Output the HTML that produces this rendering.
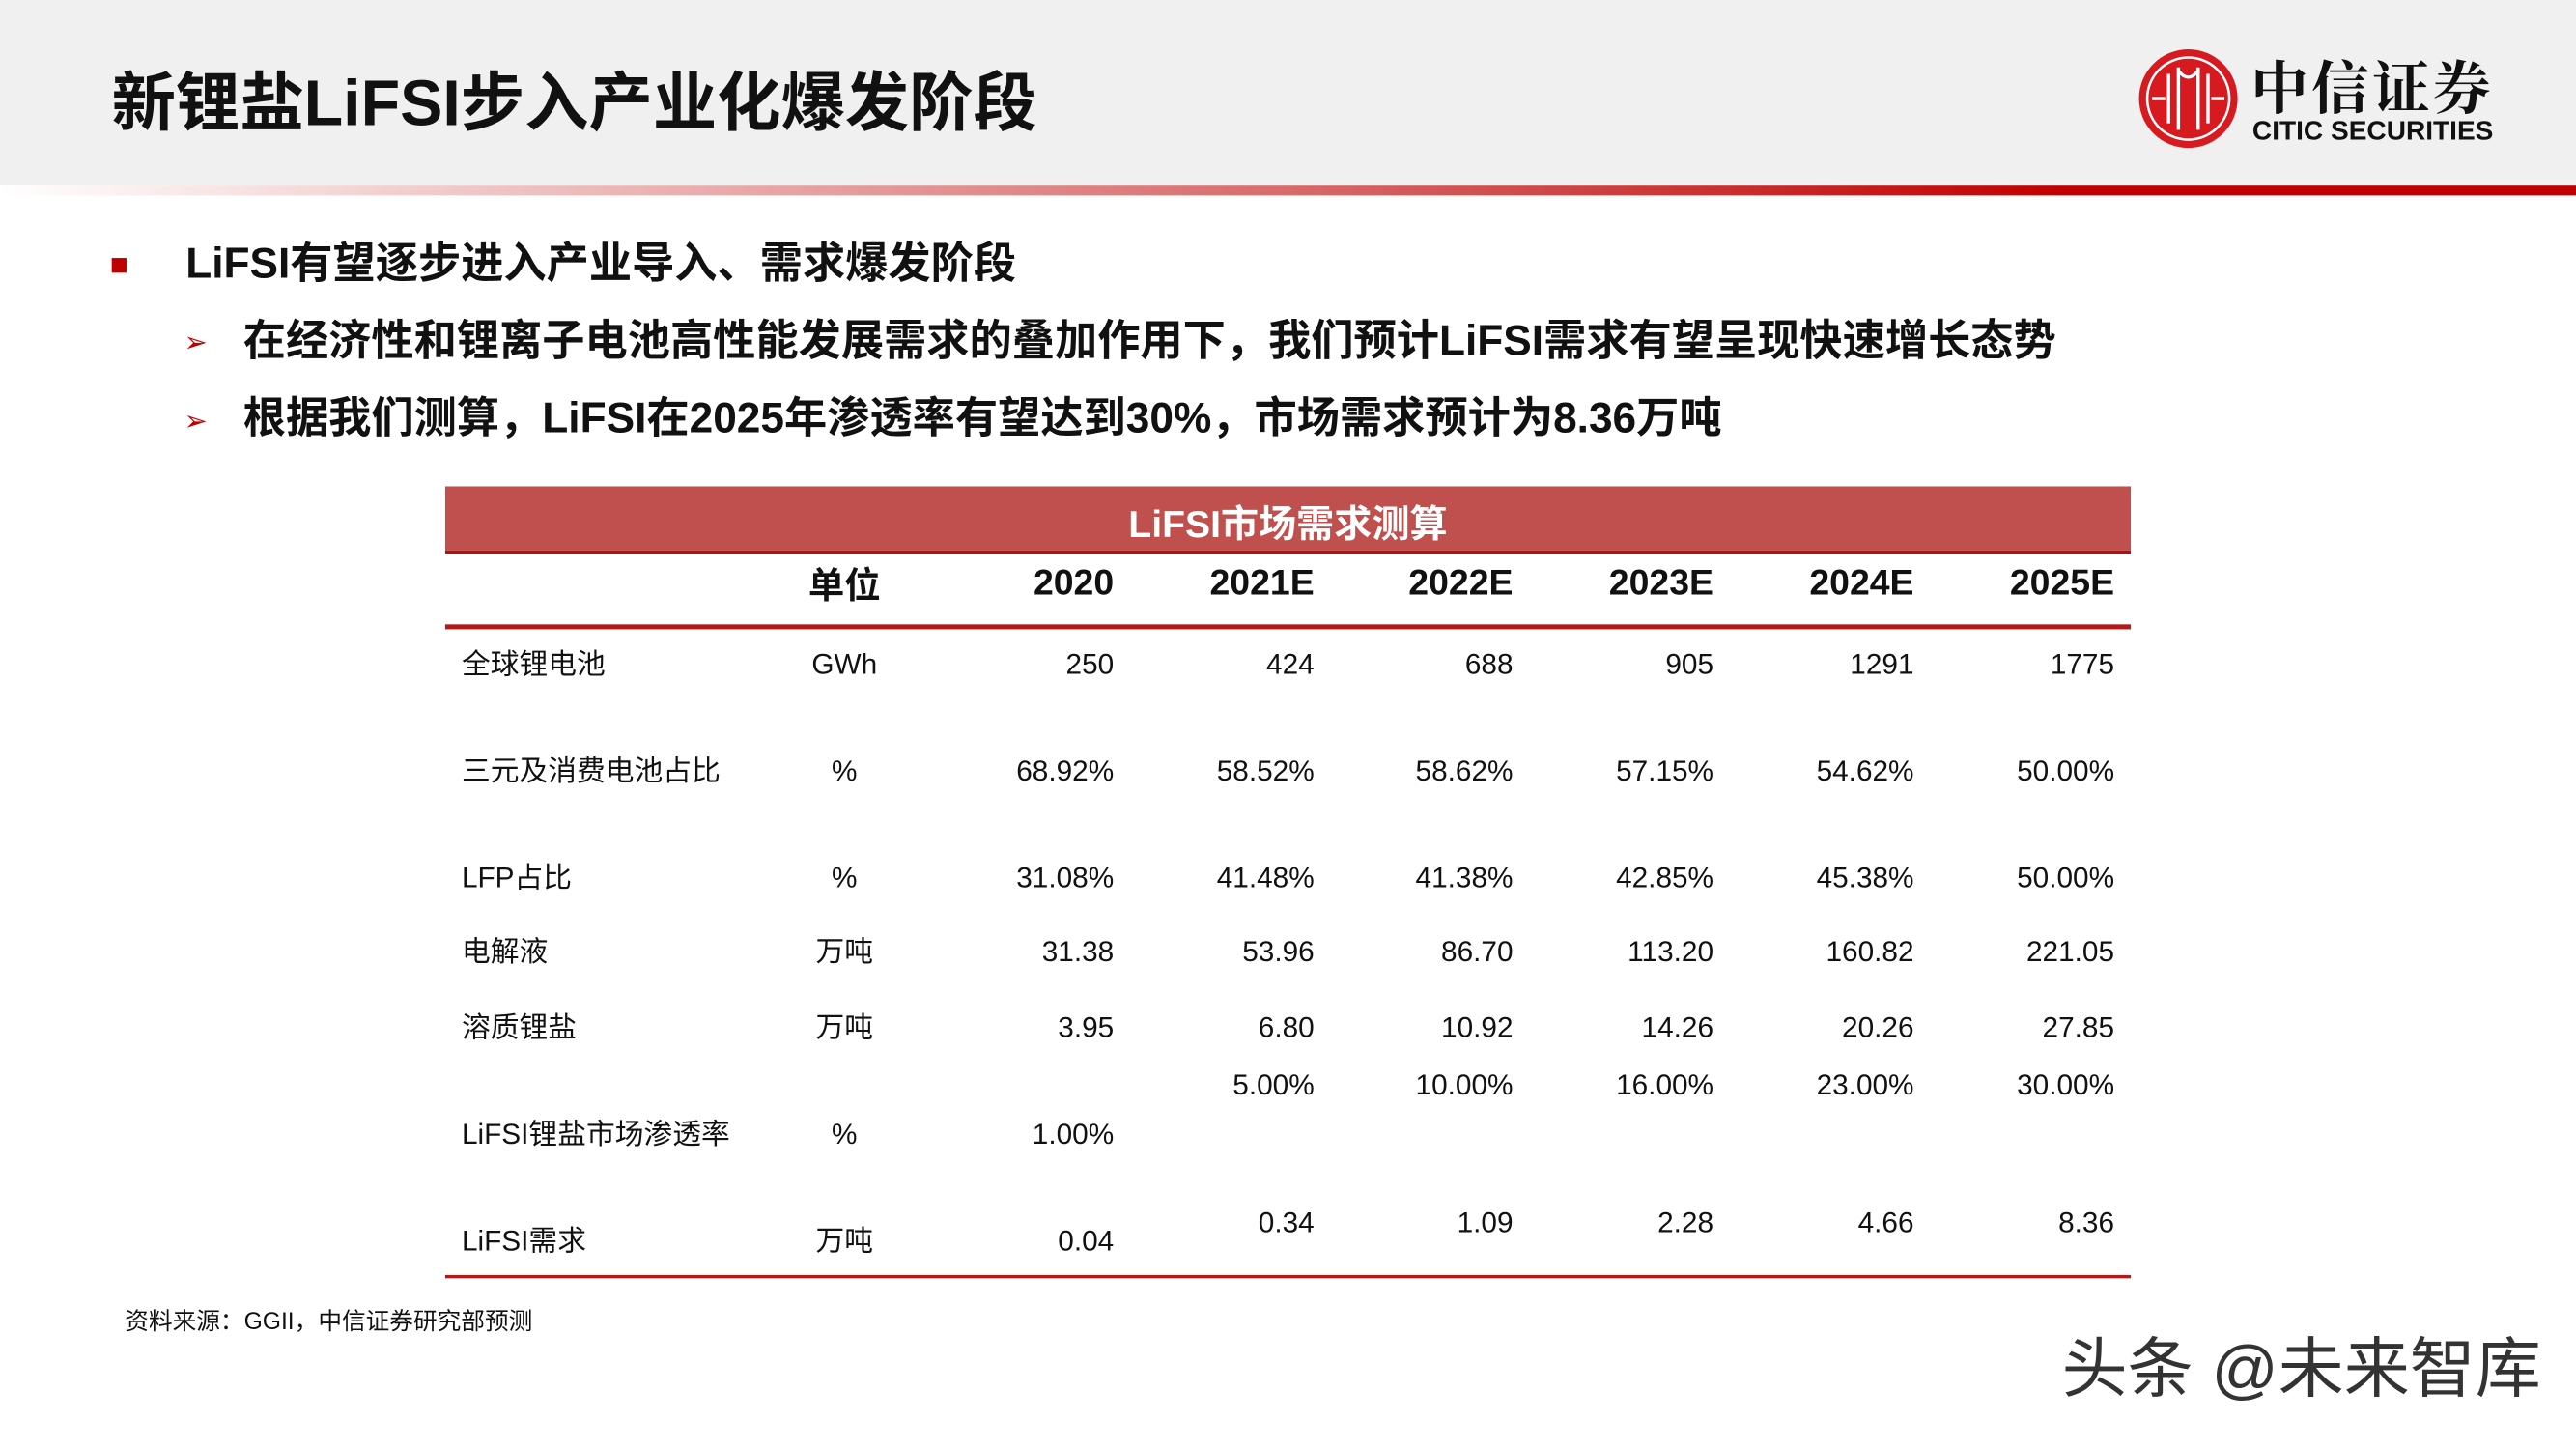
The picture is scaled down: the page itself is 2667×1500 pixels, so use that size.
<!DOCTYPE html>
<html><head><meta charset="utf-8"><style>
html,body{margin:0;padding:0;background:#fff;}
body{width:2667px;height:1500px;overflow:hidden;position:relative;}
#s{position:absolute;left:0;top:0;width:1568px;height:882px;transform:scale(1.70089);transform-origin:0 0;font-family:"Liberation Sans","Noto Sans CJK SC",sans-serif;color:#111;}
.a{position:absolute;white-space:nowrap;}
.r{position:absolute;white-space:nowrap;transform:translateX(-100%);font-size:17.5px;}
.c{position:absolute;white-space:nowrap;transform:translateX(-50%);font-size:17.5px;}
.h{font-size:22px;font-weight:bold;}
.cj{margin-top:-4px;}
</style></head><body><div id="s">
<div class="a" style="left:0;top:0;width:1568px;height:113px;background:#f0f0f0"></div>
<div class="a" style="left:0;top:113px;width:1568px;height:6px;background:linear-gradient(90deg,#fff 0%,#f3d0d0 15%,#d86a6a 50%,#c00000 80%,#c00000 100%)"></div>
<div class="a" style="left:68px;top:39px;font-size:39px;font-weight:bold;line-height:50px">新锂盐LiFSI步入产业化爆发阶段</div>
<svg class="a" style="left:1301px;top:29px" width="62" height="62" viewBox="0 0 62 62">
<circle cx="31" cy="31" r="30" fill="#d71920"/><circle cx="31" cy="31" r="25" fill="none" stroke="#fff" stroke-width="1.5"/>
<path d="M19 16v30M25 12v38M37 12v38M43 16v30M25 14q6 8 12 0" stroke="#fff" stroke-width="2" fill="none"/>
<path d="M9 31h8M45 31h8" stroke="#fff" stroke-width="2"/></svg>
<div class="a" style="left:1370px;top:30px;font-size:35px;font-weight:bold;font-family:'Noto Serif CJK SC',serif;letter-spacing:2px;line-height:44px">中信证券</div>
<div class="a" style="left:1371px;top:70px;font-size:16.5px;font-weight:bold;line-height:20px">CITIC SECURITIES</div>
<div class="a" style="left:68px;top:157px;width:9px;height:9px;background:#c00000"></div>
<div class="a" style="left:113px;top:143px;font-size:26px;font-weight:bold;line-height:34px">LiFSI有望逐步进入产业导入、需求爆发阶段</div>
<div class="a" style="left:112px;top:197px;font-size:17px;color:#c00000;line-height:24px">➢</div>
<div class="a" style="left:148px;top:190px;font-size:26px;font-weight:bold;line-height:34px">在经济性和锂离子电池高性能发展需求的叠加作用下，我们预计LiFSI需求有望呈现快速增长态势</div>
<div class="a" style="left:112px;top:245px;font-size:17px;color:#c00000;line-height:24px">➢</div>
<div class="a" style="left:148px;top:237px;font-size:26px;font-weight:bold;line-height:34px">根据我们测算，LiFSI在2025年渗透率有望达到30%，市场需求预计为8.36万吨</div>
<div class="a" style="left:271px;top:296px;width:1026px;height:39px;background:#c0504d"></div>
<div class="a" style="left:271px;top:335px;width:1026px;height:2px;background:#a01818"></div>
<div class="c" style="left:784px;top:300px;color:#fff;font-size:23px;font-weight:bold">LiFSI市场需求测算</div>
<div class="a" style="left:271px;top:380px;width:1026px;height:3px;background:#b01c1c"></div>
<div class="a" style="left:271px;top:776px;width:1026px;height:2px;background:#b01c1c"></div>
<div class="c h" style="left:514px;top:339px">单位</div>
<div class="r h" style="left:678px;top:342px">2020</div>
<div class="r h" style="left:800px;top:342px">2021E</div>
<div class="r h" style="left:921px;top:342px">2022E</div>
<div class="r h" style="left:1043px;top:342px">2023E</div>
<div class="r h" style="left:1165px;top:342px">2024E</div>
<div class="r h" style="left:1287px;top:342px">2025E</div>
<div id="rows"></div>
<script>
var R=[["全球锂电池","GWh",394,["250","424","688","905","1291","1775"]],
["三元及消费电池占比","%",459,["68.92%","58.52%","58.62%","57.15%","54.62%","50.00%"]],
["LFP占比","%",524,["31.08%","41.48%","41.38%","42.85%","45.38%","50.00%"]],
["电解液","万吨",569,["31.38","53.96","86.70","113.20","160.82","221.05"]],
["溶质锂盐","万吨",615,["3.95","6.80","10.92","14.26","20.26","27.85"]]];
var X=[678,800,921,1043,1165,1287],h="";
R.forEach(function(r){h+='<div class="a" style="left:281px;top:'+(r[2]-3)+'px;font-size:17.5px">'+r[0]+'</div><div class="c" style="left:514px;top:'+(r[1]=="万吨"?r[2]-3:r[2])+'px">'+r[1]+'</div>';
r[3].forEach(function(v,i){h+='<div class="r" style="left:'+X[i]+'px;top:'+r[2]+'px">'+v+'</div>';});});
h+='<div class="a" style="left:281px;top:677px;font-size:17.5px">LiFSI锂盐市场渗透率</div><div class="c" style="left:514px;top:680px">%</div><div class="r" style="left:678px;top:680px">1.00%</div>';
["5.00%","10.00%","16.00%","23.00%","30.00%"].forEach(function(v,i){h+='<div class="r" style="left:'+X[i+1]+'px;top:650px">'+v+'</div>';});
h+='<div class="a" style="left:281px;top:742px;font-size:17.5px">LiFSI需求</div><div class="c" style="left:514px;top:742px">万吨</div><div class="r" style="left:678px;top:745px">0.04</div>';
["0.34","1.09","2.28","4.66","8.36"].forEach(function(v,i){h+='<div class="r" style="left:'+X[i+1]+'px;top:734px">'+v+'</div>';});
document.getElementById("rows").innerHTML=h;
</script>
<div class="a" style="left:76px;top:793px;font-size:14.5px">资料来源：GGII，中信证券研究部预测</div>
<div class="a" style="left:1255px;top:810px;font-size:40px;color:#333;line-height:48px">头条 @未来智库</div>
</div></body></html>
